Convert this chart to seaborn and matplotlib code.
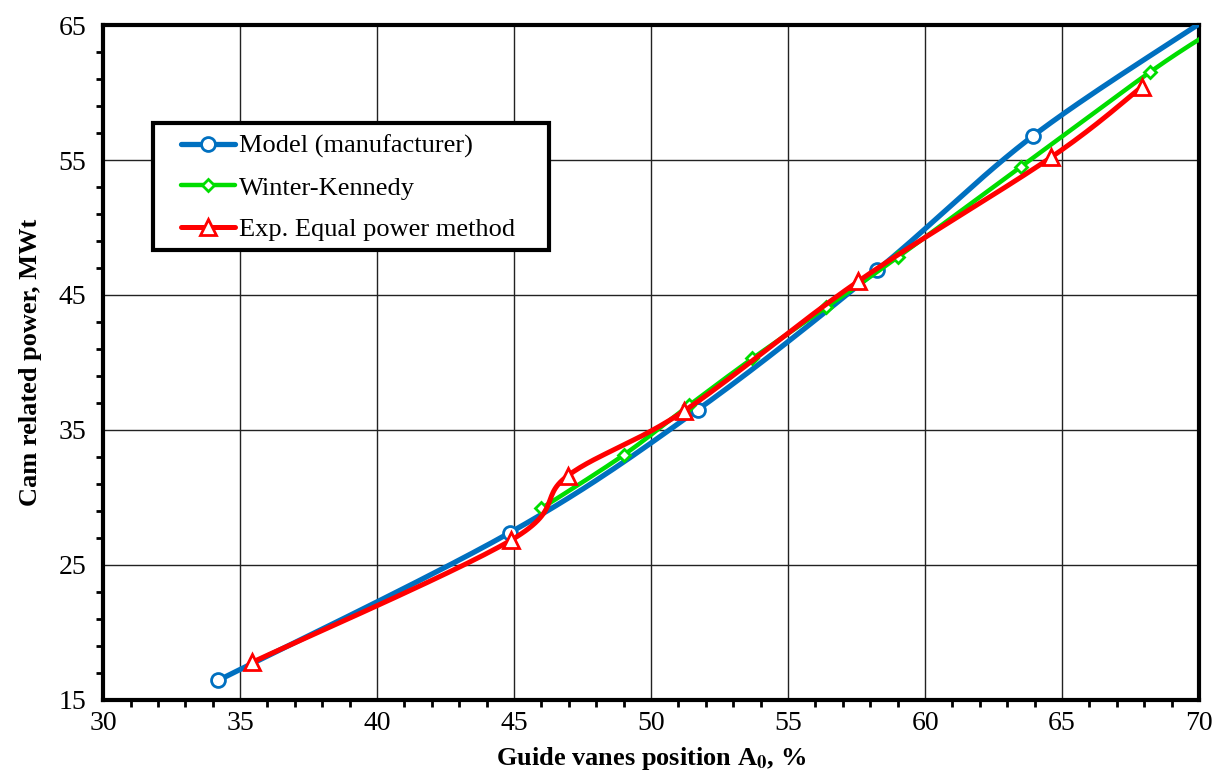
import numpy as np
import pandas as pd
import matplotlib
matplotlib.use('Agg')
import matplotlib.pyplot as plt
import seaborn as sns
from matplotlib.lines import Line2D
from matplotlib.patches import Rectangle
from matplotlib.ticker import MultipleLocator

# values (last point of blue/green lies just outside the axes)
model_x = [34.2, 44.85, 51.7, 58.25, 63.95, 70.4]
model_y = [16.45, 27.4, 36.5, 46.85, 56.8, 65.6]
wk_x = [46.0, 49.0, 51.4, 53.7, 56.4, 59.0, 63.5, 68.2, 70.6]
wk_y = [29.2, 33.15, 36.85, 40.3, 44.1, 47.8, 54.5, 61.5, 64.7]
exp_x = [35.45, 44.9, 46.95, 51.2, 57.55, 64.6, 67.9]
exp_y = [17.8, 26.85, 31.6, 36.4, 46.0, 55.2, 60.4]

series_names = ['Model (manufacturer)', 'Winter-Kennedy', 'Exp. Equal power method']
colors = ['#0070C0', '#00DD00', '#FF0000']
markers = ['o', 'D', '^']
msizes = [10, 6.5, 12]
lwidths = [3.8, 3.2, 3.6]


def smooth(x, y, n=30):
    # Excel-style smoothed line (Catmull-Rom through the points)
    p = np.column_stack([x, y]).astype(float)
    p = np.vstack([p[0], p, p[-1]])
    out = []
    t = np.linspace(0, 1, n)[:, None]
    for i in range(1, len(p) - 2):
        p0, p1, p2, p3 = p[i - 1], p[i], p[i + 1], p[i + 2]
        c1 = p1 + (p2 - p0) / 6
        c2 = p2 - (p3 - p1) / 6
        seg = ((1 - t) ** 3) * p1 + 3 * ((1 - t) ** 2) * t * c1 + 3 * (1 - t) * t ** 2 * c2 + t ** 3 * p2
        out.append(seg)
    out = np.vstack(out)
    return out[:, 0], out[:, 1]


sns.set_theme(style='white')
plt.rcParams['font.family'] = ['Liberation Serif', 'DejaVu Serif']
plt.rcParams['mathtext.fontset'] = 'stix'
plt.rcParams['text.color'] = 'black'
plt.rcParams['axes.labelcolor'] = 'black'

fig = plt.figure(figsize=(12.13, 7.72), dpi=100)
ax = fig.add_axes([0.085, 0.0933, 0.9035, 0.8743])

data = [(model_x, model_y), (wk_x, wk_y), (exp_x, exp_y)]
handles = []
for i, (xs, ys) in enumerate(data):
    sx, sy = smooth(xs, ys)
    sns.lineplot(x=sx, y=sy, sort=False, estimator=None, ax=ax, color=colors[i],
                 linewidth=lwidths[i], zorder=3 + i)
    ax.plot(xs, ys, linestyle='none', marker=markers[i], markersize=msizes[i],
            markerfacecolor='white', markeredgecolor=colors[i], markeredgewidth=2,
            zorder=3 + i)
    handles.append(Line2D([], [], color=colors[i], linewidth=lwidths[i], marker=markers[i],
                          markersize=msizes[i], markerfacecolor='white',
                          markeredgecolor=colors[i], markeredgewidth=2))

ax.set_xlim(30, 70)
ax.set_ylim(15, 65)
ax.xaxis.set_major_locator(MultipleLocator(5))
ax.xaxis.set_minor_locator(MultipleLocator(1))
ax.yaxis.set_major_locator(MultipleLocator(10, offset=5))
ax.yaxis.set_minor_locator(MultipleLocator(2, offset=1))
ax.grid(True, which='major', color='#222222', linewidth=1.0)
for s in ax.spines.values():
    s.set_linewidth(3)
    s.set_color('black')
ax.tick_params(which='both', direction='out', color='black', labelcolor='black')
ax.tick_params(which='major', length=6, width=2)
ax.tick_params(which='minor', length=5, width=2, bottom=True, left=True)
ax.tick_params(axis='x', labelsize=20, pad=2)
ax.tick_params(axis='y', labelsize=20, pad=6)

ax.set_xlabel(r'Guide vanes position A$_\mathbf{0}$, %', fontsize=19, fontweight='bold')
ax.set_ylabel('Cam related power, MWt', fontsize=19, fontweight='bold')
ax.xaxis.set_label_coords(0.5, -0.066)
ax.yaxis.set_label_coords(-0.056, 0.5)

# legend frame drawn as a plain box, entries placed inside it
ax.add_patch(Rectangle((0.0456, 0.6667), 0.3613, 0.1881, transform=ax.transAxes,
                       facecolor='white', edgecolor='black', linewidth=3, zorder=9))
leg = ax.legend(handles, series_names, loc='upper left', bbox_to_anchor=(0.071, 0.838),
                borderaxespad=0, fontsize=19, handlelength=2.05, handletextpad=0.15,
                labelspacing=0.68, frameon=False, borderpad=0)
leg.set_zorder(10)

fig.savefig('out.png', dpi=100)
